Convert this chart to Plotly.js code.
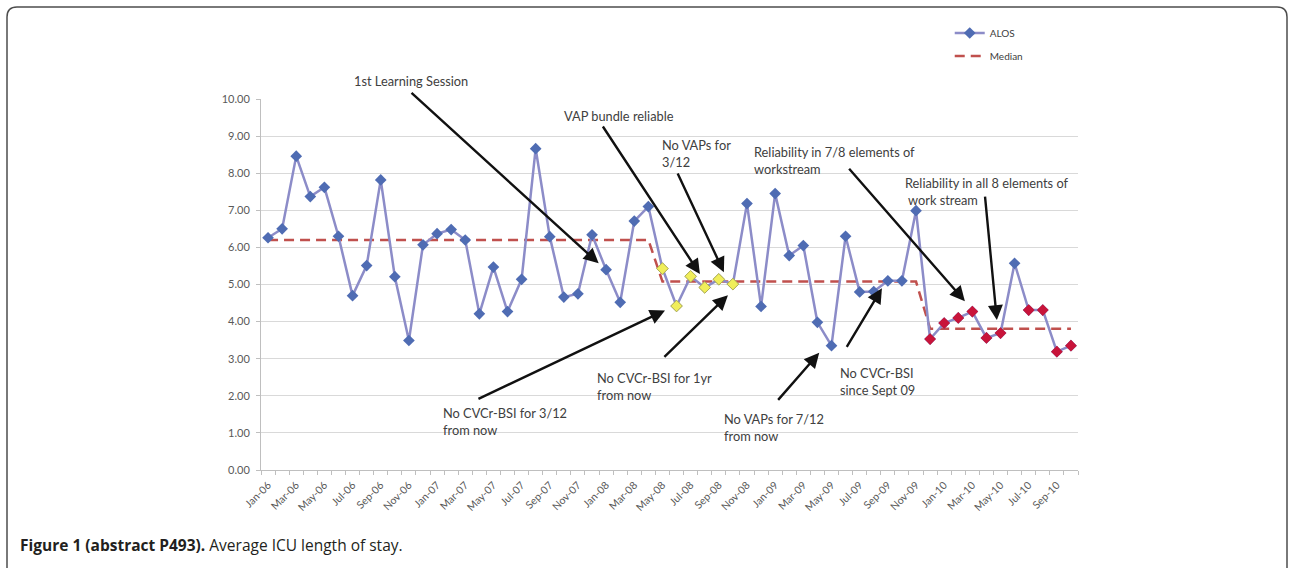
<!DOCTYPE html>
<html>
<head>
<meta charset="utf-8">
<script src="https://cdn.plot.ly/plotly-3.0.1.min.js"></script>
<style>
  html, body { margin: 0; padding: 0; background: #ffffff; }
  #chart { width: 1292px; height: 568px; }
</style>
</head>
<body>
<div id="chart"></div>
<script>
// ---- Data ----
const months = [
  'Jan-06','Feb-06','Mar-06','Apr-06','May-06','Jun-06','Jul-06','Aug-06','Sep-06','Oct-06','Nov-06','Dec-06',
  'Jan-07','Feb-07','Mar-07','Apr-07','May-07','Jun-07','Jul-07','Aug-07','Sep-07','Oct-07','Nov-07','Dec-07',
  'Jan-08','Feb-08','Mar-08','Apr-08','May-08','Jun-08','Jul-08','Aug-08','Sep-08','Oct-08','Nov-08','Dec-08',
  'Jan-09','Feb-09','Mar-09','Apr-09','May-09','Jun-09','Jul-09','Aug-09','Sep-09','Oct-09','Nov-09','Dec-09',
  'Jan-10','Feb-10','Mar-10','Apr-10','May-10','Jun-10','Jul-10','Aug-10','Sep-10','Oct-10'
];

const alos = [
  6.26, 6.50, 8.46, 7.37, 7.62, 6.30, 4.70, 5.51, 7.82, 5.21, 3.49, 6.07,
  6.37, 6.48, 6.20, 4.21, 5.47, 4.27, 5.14, 8.66, 6.29, 4.66, 4.75, 6.34,
  5.40, 4.52, 6.71, 7.10, 5.43, 4.42, 5.22, 4.92, 5.14, 5.01, 7.18, 4.41,
  7.45, 5.78, 6.05, 3.98, 3.35, 6.30, 4.80, 4.81, 5.10, 5.10, 6.99, 3.53,
  3.96, 4.10, 4.27, 3.56, 3.69, 5.57, 4.31, 4.31, 3.19, 3.35
];

const median = [
  6.20, 6.20, 6.20, 6.20, 6.20, 6.20, 6.20, 6.20, 6.20, 6.20, 6.20, 6.20,
  6.20, 6.20, 6.20, 6.20, 6.20, 6.20, 6.20, 6.20, 6.20, 6.20, 6.20, 6.20,
  6.20, 6.20, 6.20, 6.20, 5.08, 5.08, 5.08, 5.08, 5.08, 5.08, 5.08, 5.08,
  5.08, 5.08, 5.08, 5.08, 5.08, 5.08, 5.08, 5.08, 5.08, 5.08, 5.08, 3.81,
  3.81, 3.81, 3.81, 3.81, 3.81, 3.81, 3.81, 3.81, 3.81, 3.81
];

const yellowMonths = ['May-08','Jun-08','Jul-08','Aug-08','Sep-08','Oct-08'];
const redMonths = ['Dec-09','Jan-10','Feb-10','Mar-10','Apr-10','May-10','Jul-10','Aug-10','Sep-10','Oct-10'];

const tickLabels = [
  'Jan-06','Mar-06','May-06','Jul-06','Sep-06','Nov-06',
  'Jan-07','Mar-07','May-07','Jul-07','Sep-07','Nov-07',
  'Jan-08','Mar-08','May-08','Jul-08','Sep-08','Nov-08',
  'Jan-09','Mar-09','May-09','Jul-09','Sep-09','Nov-09',
  'Jan-10','Mar-10','May-10','Jul-10','Sep-10'
];
const yTicks = [0, 1, 2, 3, 4, 5, 6, 7, 8, 9, 10];

// annotations: text, label anchor (month index, value), arrow tail and tip
const notes = [
  {text: '1st Learning Session', lx: 5.96, ly: 10.49, tail: [10.08, 10.20], tip: [23.47, 5.57]},
  {text: 'VAP bundle reliable', lx: 20.87, ly: 9.55, tail: [23.70, 9.30], tip: [30.66, 5.28]},
  {text: 'No VAPs for<br>3/12', lx: 27.82, ly: 8.52, tail: [29.03, 8.03], tip: [32.36, 5.33]},
  {text: 'Reliability in 7/8 elements of<br>workstream', lx: 34.35, ly: 8.33, tail: [41.16, 8.16], tip: [49.47, 4.55]},
  {text: 'Reliability in all 8 elements of<br> work stream', lx: 45.07, ly: 7.52, tail: [50.89, 7.41], tip: [51.74, 4.04]},
  {text: 'No CVCr-BSI for 3/12<br>from now', lx: 12.28, ly: 1.31, tail: [14.83, 1.90], tip: [28.18, 4.30]},
  {text: 'No CVCr-BSI for 1yr<br>from now', lx: 23.21, ly: 2.25, tail: [28.03, 3.01], tip: [32.65, 4.71]},
  {text: 'No VAPs for 7/12<br>from now', lx: 32.22, ly: 1.15, tail: [36.12, 1.85], tip: [39.13, 3.16]},
  {text: 'No CVCr-BSI<br>since Sept 09', lx: 40.45, ly: 2.39, tail: [41.02, 3.28], tip: [43.58, 4.90]}
];

// ---- Build chart ----
const xs = months.map((m, i) => i);
const idx = m => months.indexOf(m);
const Y_MIN = 0, Y_MAX = 10;

const FONT = 'Lato, "Open Sans", sans-serif';
const TXT = '#404040';

const traces = [
  {
    name: 'Median', x: xs, y: median, mode: 'lines', legendrank: 2, legendgroup: 'm',
    line: {color: '#c0504d', width: 2.5, dash: '10px,6px'}, hoverinfo: 'skip'
  },
  {
    name: 'ALOS', x: xs, y: alos, mode: 'lines+markers', legendrank: 1, legendgroup: 'a',
    line: {color: '#8c8cc8', width: 2.5},
    marker: {symbol: 'diamond', size: 9, color: '#4f6cb3'}
  },
  {
    name: 'yellow', showlegend: false, mode: 'markers',
    x: yellowMonths.map(idx), y: yellowMonths.map(m => alos[idx(m)]),
    marker: {symbol: 'diamond', size: 9, color: '#f0ee5a', line: {color: '#b0ae55', width: 1}}
  },
  {
    name: 'red', showlegend: false, mode: 'markers',
    x: redMonths.map(idx), y: redMonths.map(m => alos[idx(m)]),
    marker: {symbol: 'diamond', size: 9, color: '#c8143a'}
  }
];

const annotations = [];
notes.forEach(n => {
  const outside = n.ly > Y_MAX;
  annotations.push({
    x: n.lx, xref: 'x',
    y: outside ? (n.ly - Y_MIN) / (Y_MAX - Y_MIN) : n.ly, yref: outside ? 'paper' : 'y',
    text: n.text, showarrow: false,
    xanchor: 'left', yanchor: 'middle', align: 'left',
    font: {family: FONT, size: 12.8, color: TXT}
  });
  annotations.push({
    x: n.tip[0], y: n.tip[1], ax: n.tail[0], ay: n.tail[1],
    xref: 'x', yref: 'y', axref: 'x', ayref: 'y', text: '', showarrow: true,
    arrowhead: 2, arrowsize: 1.25, arrowwidth: 2.4, arrowcolor: '#111111'
  });
});
annotations.push({
  xref: 'paper', yref: 'paper', x: -0.297, y: -0.202, xanchor: 'left', yanchor: 'middle',
  showarrow: false, align: 'left',
  text: '<b>Figure 1 (abstract P493).</b> Average ICU length of stay.',
  font: {family: '"Open Sans", sans-serif', size: 15.5, color: '#231f20'}
});

// rounded frame in paper units
const W = 817, H = 371;
const fx0 = (7 - 261) / W, fx1 = (1287 - 261) / W;
const fy1 = (470 - 7) / H, fy0 = (470 - 600) / H;
const rx = 10 / W, ry = 10 / H;
const framePath =
  `M ${fx0 + rx} ${fy1} L ${fx1 - rx} ${fy1} Q ${fx1} ${fy1} ${fx1} ${fy1 - ry} ` +
  `L ${fx1} ${fy0 + ry} Q ${fx1} ${fy0} ${fx1 - rx} ${fy0} L ${fx0 + rx} ${fy0} ` +
  `Q ${fx0} ${fy0} ${fx0} ${fy0 + ry} L ${fx0} ${fy1 - ry} Q ${fx0} ${fy1} ${fx0 + rx} ${fy1} Z`;

const layout = {
  width: 1292, height: 568,
  margin: {l: 261, r: 214, t: 99, b: 98, pad: 0},
  paper_bgcolor: '#ffffff', plot_bgcolor: '#ffffff',
  font: {family: FONT, color: TXT},
  showlegend: true,
  legend: {
    x: 0.843, y: 1.217, xanchor: 'left', yanchor: 'top',
    font: {family: FONT, size: 10, color: TXT},
    bgcolor: 'rgba(0,0,0,0)', traceorder: 'grouped', tracegroupgap: 4, itemwidth: 30
  },
  xaxis: {
    range: [-0.5, 57.5], tickmode: 'array',
    tickvals: tickLabels.map(idx), ticktext: tickLabels,
    tickangle: -45, ticks: '', showgrid: false, zeroline: false,
    showline: true, linecolor: '#bfbfbf', linewidth: 1, ticklabelstandoff: 4,
    tickfont: {family: FONT, size: 10.5, color: '#595959'},
    minor: {ticks: 'outside', tick0: -0.5, dtick: 1, ticklen: 4, tickcolor: '#bfbfbf', showgrid: false}
  },
  yaxis: {
    range: [Y_MIN, Y_MAX], tickmode: 'array', tickvals: yTicks,
    tickformat: '.2f', ticks: 'outside', ticklen: 4, tickcolor: '#bfbfbf',
    showgrid: true, gridcolor: '#d9d9d9', gridwidth: 1, zeroline: false,
    showline: true, linecolor: '#bfbfbf', linewidth: 1, ticklabelstandoff: 4,
    tickfont: {family: FONT, size: 11, color: '#595959'}
  },
  annotations: annotations,
  shapes: [{
    type: 'path', xref: 'paper', yref: 'paper', path: framePath,
    line: {color: '#4d4d4d', width: 1.5}, fillcolor: 'rgba(0,0,0,0)', layer: 'above'
  }]
};

Plotly.newPlot('chart', traces, layout, {displayModeBar: false, staticPlot: true});
</script>
</body>
</html>
